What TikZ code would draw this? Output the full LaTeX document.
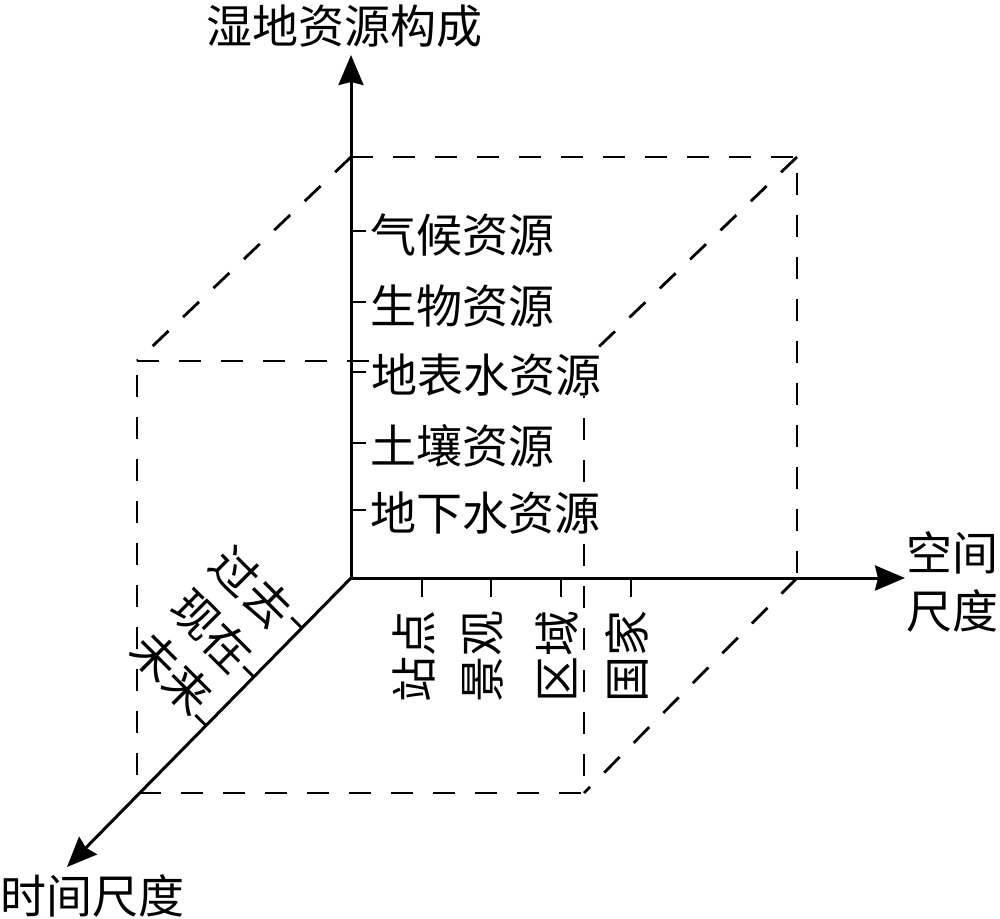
\documentclass[tikz,border=0pt]{standalone}
\usepackage{fontspec}
\newfontfamily\cjk{Noto Sans CJK SC}
\usetikzlibrary{arrows.meta}
\begin{document}
\begin{tikzpicture}[x=1pt,y=-1pt,
  axis/.style={line width=3pt,-{Stealth[length=30pt,width=25pt,inset=3pt]}},
  dsh/.style={line width=2.8pt,dash pattern=on 22pt off 20pt},
  tickline/.style={line width=2.8pt},
  lbl/.style={font=\cjk\fontsize{46}{58}\selectfont,inner sep=0pt}]
\useasboundingbox (0,0) rectangle (1000,918);
% corners
\coordinate (O) at (351,578);
\coordinate (B1) at (351,157);
\coordinate (B2) at (797,157);
\coordinate (B3) at (797,578);
\coordinate (F1) at (137,361);
\coordinate (F2) at (584,361);
\coordinate (F3) at (584,793);
\coordinate (F4) at (137,793);
\coordinate (Ytip) at (351,55);
\coordinate (Xtip) at (905,578);
\coordinate (Ttip) at (67,867);
% dashed box
\draw[dsh] (B1) -- (B2) -- (B3);
\draw[dsh] (B1) -- (F1);
\draw[dsh] (B2) -- (F2);
\draw[dsh] (B3) -- (F3);
\draw[dsh] (F1) -- (F2) -- (F3) -- (F4) -- cycle;
% vertical axis labels
\node[lbl,anchor=west] (y1) at (370,235) {气候资源};
\node[lbl,anchor=west] (y2) at (370,306) {生物资源};
\node[lbl,anchor=west,fill=white] (y3) at (371,375) {地表水资源};
\node[lbl,anchor=west] (y4) at (370,446) {土壤资源};
\node[lbl,anchor=west] (y5) at (370,513) {地下水资源};
% axes
\draw[axis] (O) -- (Ytip);
\draw[axis] (O) -- (Xtip);
\draw[axis] (O) -- (Ttip);
% ticks on vertical axis
\foreach \yy in {231,302,372,443,510}
  \draw[tickline] (351,\yy) -- ++(15,0);
% ticks on horizontal axis
\foreach \xx in {422,491,561,631}
  \draw[tickline] (\xx,578) -- ++(0,19);
% ticks on time axis
\foreach \pp in {(302,628),(254,677),(206,725.5)}
  \draw[tickline] \pp -- ++(-10.7,-10.5);
% horizontal axis labels
\node[lbl,rotate=90] (x1) at (414,656) {站点};
\node[lbl,rotate=90] (x2) at (483,656) {景观};
\node[lbl,rotate=90] (x3) at (557,656) {区域};
\node[lbl,rotate=90] (x4) at (627,656) {国家};
% time axis labels
\node[lbl,rotate=-45] (t1) at (252,587) {过去};
\node[lbl,rotate=-45] (t2) at (212,631) {现在};
\node[lbl,rotate=-45] (t3) at (172,673) {未来};
% axis titles
\node[lbl] (ytitle) at (344,26) {湿地资源构成};
\node[lbl,align=left,anchor=west] (xtitle) at (906,582) {空间\\尺度};
\node[lbl] (ttitle) at (92,896) {时间尺度};
\end{tikzpicture}
\end{document}
